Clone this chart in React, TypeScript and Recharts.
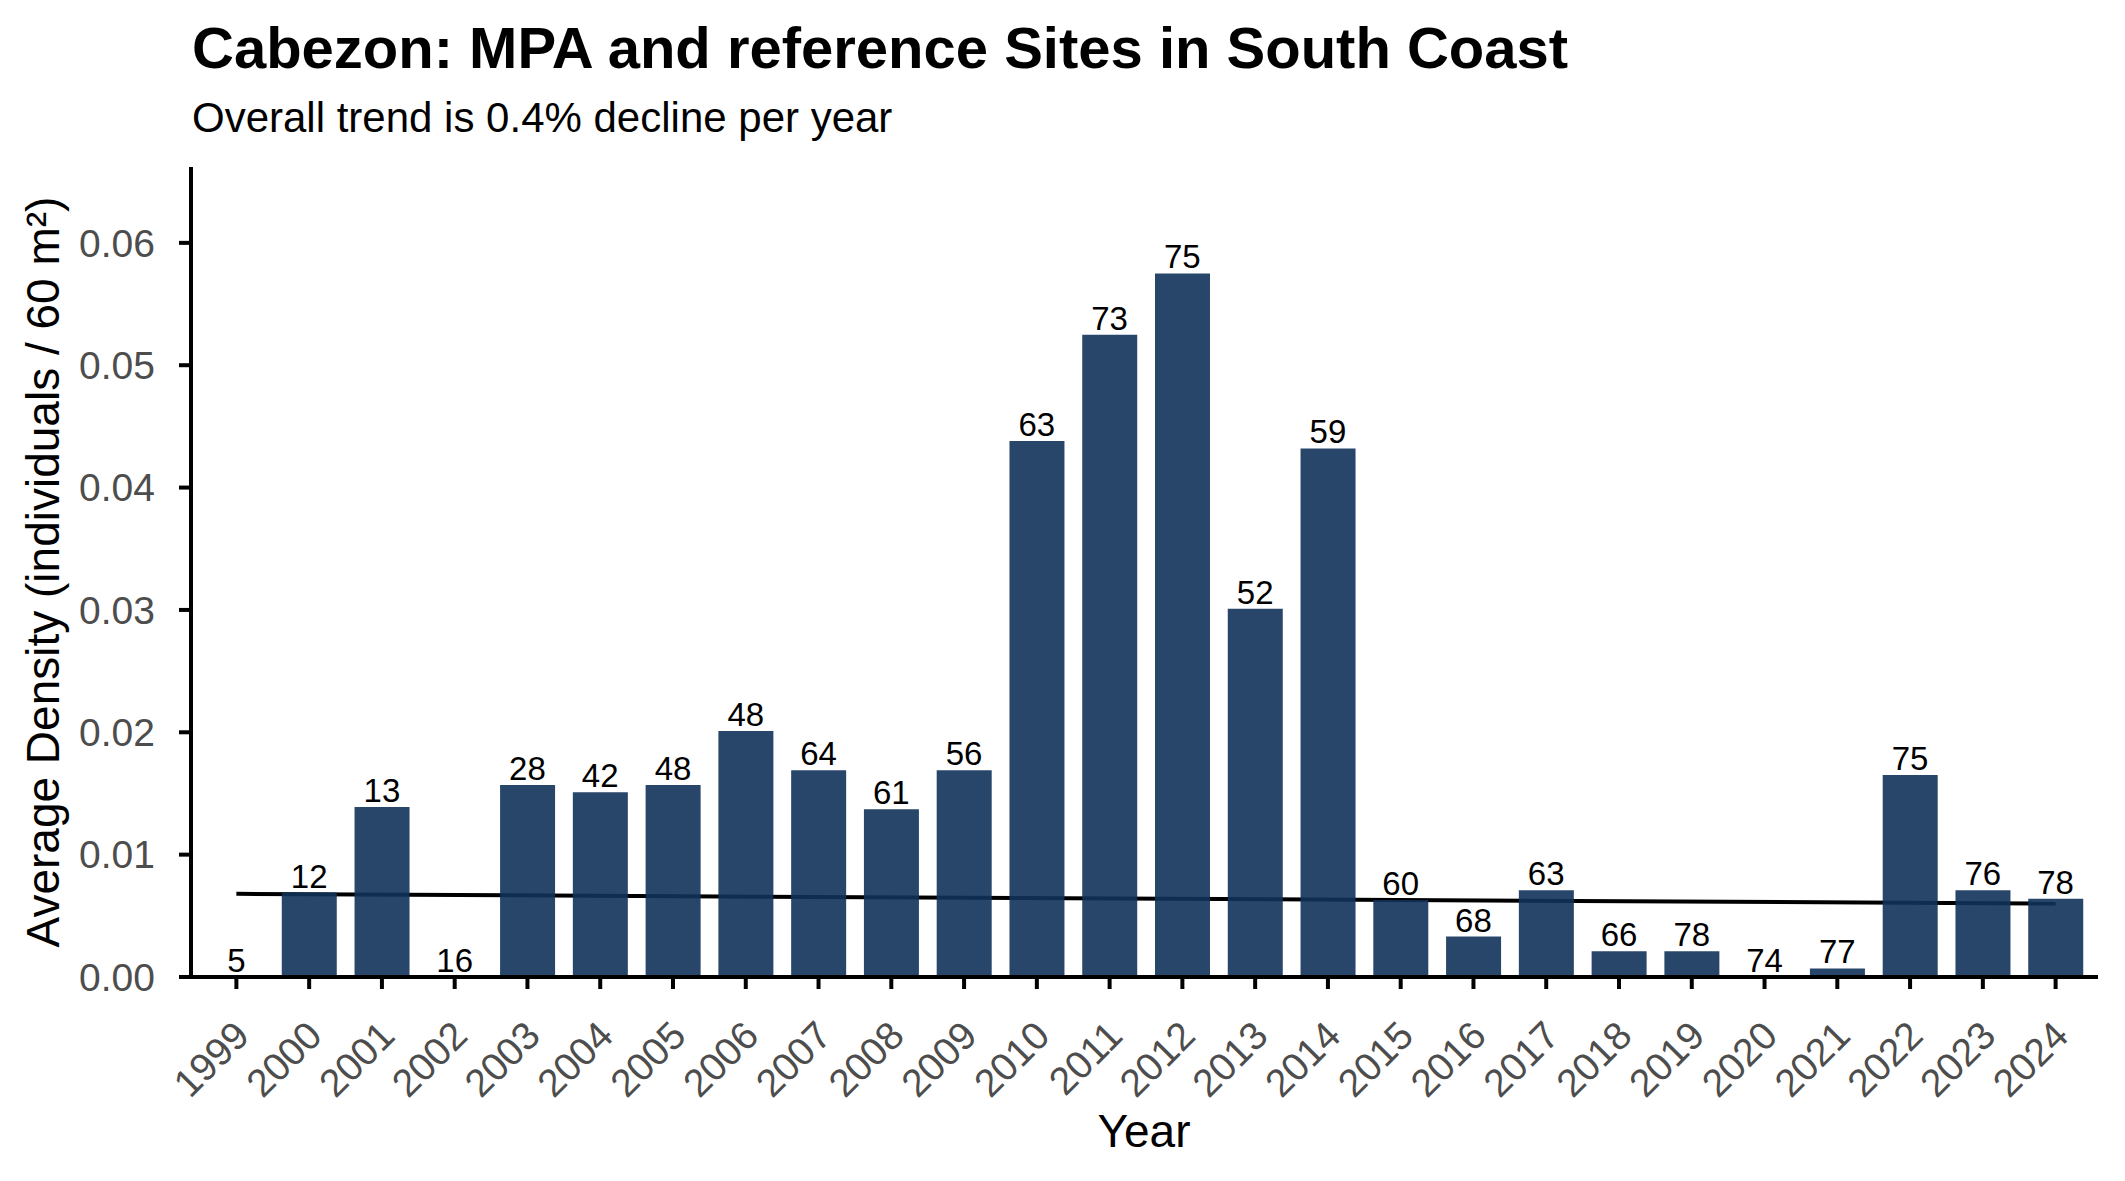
import React from 'react'
import { ComposedChart, Bar, Line, XAxis, YAxis, LabelList } from 'recharts'

const years = [
  '1999', '2000', '2001', '2002', '2003', '2004', '2005', '2006', '2007', '2008', '2009', '2010', '2011',
  '2012', '2013', '2014', '2015', '2016', '2017', '2018', '2019', '2020', '2021', '2022', '2023', '2024',
]

// average density per 60 m² transect
const density = [
  0, 0.0069, 0.0139, 0, 0.0157, 0.0151, 0.0157, 0.0201, 0.0169, 0.0137, 0.0169, 0.0438, 0.0525,
  0.0575, 0.0301, 0.0432, 0.0063, 0.0033, 0.0071, 0.0021, 0.0021, 0, 0.0007, 0.0165, 0.0071, 0.0064,
]

// number of sites surveyed, printed above each bar
const sites = [
  5, 12, 13, 16, 28, 42, 48, 48, 64, 61, 56, 63, 73,
  75, 52, 59, 60, 68, 63, 66, 78, 74, 77, 75, 76, 78,
]

// fitted trend, only the end points are needed for the straight line
const trendStart = 0.0068
const trendEnd = 0.006

const yTicks = [0, 0.01, 0.02, 0.03, 0.04, 0.05, 0.06]

const rows = years.map((year, i) => ({
  year,
  density: density[i],
  sites: sites[i],
  trend: i === 0 ? trendStart : i === years.length - 1 ? trendEnd : null,
}))

const FONT = '"Liberation Sans", Arial, Helvetica, sans-serif'

function YearTick({ x, y, payload }: any) {
  const tx = x + 15
  const ty = y + 49
  return (
    <text
      x={tx}
      y={ty}
      transform={`rotate(-45 ${tx} ${ty})`}
      textAnchor="end"
      fontSize={39}
      fill="#4d4d4d"
      fontFamily={FONT}
    >
      {payload.value}
    </text>
  )
}

export default function App() {
  return (
    <div style={{ position: 'absolute', left: 0, top: 0, width: 2125, height: 1181, background: '#fff', fontFamily: FONT }}>
      <ComposedChart
        width={2125}
        height={1181}
        data={rows}
        margin={{ top: 167, right: 27, bottom: 34, left: 41 }}
      >
        <XAxis
          dataKey="year"
          interval={0}
          height={170}
          padding={{ left: 9, right: 6 }}
          tickSize={12}
          tickMargin={0}
          axisLine={{ stroke: '#000', strokeWidth: 4 }}
          tickLine={{ stroke: '#000', strokeWidth: 4 }}
          tick={<YearTick />}
        />
        <YAxis
          domain={[0, 0.0662]}
          ticks={yTicks}
          allowDataOverflow
          width={150}
          tickSize={12}
          tickMargin={24}
          tickFormatter={(v: number) => v.toFixed(2)}
          axisLine={{ stroke: '#000', strokeWidth: 4 }}
          tickLine={{ stroke: '#000', strokeWidth: 4 }}
          tick={{ fontSize: 39, fill: '#4d4d4d', fontFamily: FONT }}
        />
        <Line
          dataKey="trend"
          type="linear"
          stroke="#000"
          strokeWidth={4}
          dot={false}
          activeDot={false}
          connectNulls
          isAnimationActive={false}
          zIndex={250}
        />
        <Bar dataKey="density" fill="#113259" fillOpacity={0.9} barSize={55} isAnimationActive={false} />
        {/* invisible series carrying the site counts, so zero-height years get a label too */}
        <Line
          dataKey="density"
          stroke="none"
          dot={false}
          activeDot={false}
          legendType="none"
          isAnimationActive={false}
        >
          <LabelList dataKey="sites" position="top" offset={5} fontSize={33} fill="#000" fontFamily={FONT} />
        </Line>
      </ComposedChart>
      <svg width={2125} height={1181} style={{ position: 'absolute', left: 0, top: 0, pointerEvents: 'none' }}>
        <text x={192} y={68} fontSize={58} fontWeight="bold" fill="#000" fontFamily={FONT}>
          Cabezon: MPA and reference Sites in South Coast
        </text>
        <text x={192} y={132} fontSize={42} fill="#000" fontFamily={FONT}>
          Overall trend is 0.4% decline per year
        </text>
        <text x={1144} y={1147} fontSize={46} textAnchor="middle" fill="#000" fontFamily={FONT}>
          Year
        </text>
        <text x={59} y={572} fontSize={46} textAnchor="middle" transform="rotate(-90 59 572)" fill="#000" fontFamily={FONT}>
          Average Density (individuals / 60 m²)
        </text>
      </svg>
    </div>
  )
}
